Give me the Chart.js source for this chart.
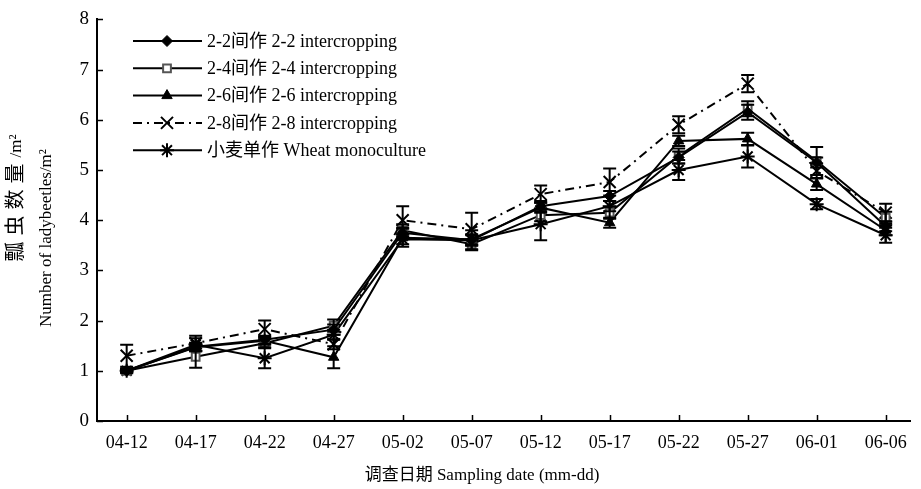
<!DOCTYPE html>
<html>
<head>
<meta charset="utf-8">
<script src="https://cdn.jsdelivr.net/npm/chart.js@4"></script>
<style>
  html, body { margin: 0; padding: 0; background: #fff; }
</style>
</head>
<body>
<canvas id="lineChart" width="921" height="489"></canvas>
<script>
  const dates = ['04-12', '04-17', '04-22', '04-27', '05-02', '05-07',
                 '05-12', '05-17', '05-22', '05-27', '06-01', '06-06'];
  const yTicks = [0, 1, 2, 3, 4, 5, 6, 7, 8];

  const seriesNames = [
    '2-2间作 2-2 intercropping',
    '2-4间作 2-4 intercropping',
    '2-6间作 2-6 intercropping',
    '2-8间作 2-8 intercropping',
    '小麦单作 Wheat monoculture'
  ];

  const ic22 = [1.00, 1.48, 1.62, 1.82, 3.75, 3.60, 4.28, 4.48, 5.25, 6.15, 5.15, 3.88];
  const ic24 = [1.00, 1.28, 1.55, 1.90, 3.80, 3.52, 4.10, 4.15, 5.28, 6.22, 5.18, 4.05];
  const ic26 = [1.00, 1.47, 1.60, 1.27, 3.65, 3.62, 4.25, 3.95, 5.58, 5.62, 4.72, 3.80];
  const ic28 = [1.30, 1.55, 1.83, 1.53, 4.00, 3.82, 4.52, 4.76, 5.90, 6.72, 4.98, 4.15];
  const wheat = [1.00, 1.52, 1.25, 1.72, 3.62, 3.60, 3.92, 4.28, 5.00, 5.27, 4.32, 3.70];

  // standard errors
  const ic22Err = [0.03, 0.08, 0.08, 0.10, 0.10, 0.10, 0.10, 0.10, 0.12, 0.15, 0.10, 0.10];
  const ic24Err = [0.03, 0.22, 0.08, 0.12, 0.12, 0.10, 0.12, 0.12, 0.15, 0.15, 0.28, 0.12];
  const ic26Err = [0.03, 0.08, 0.08, 0.22, 0.18, 0.10, 0.10, 0.10, 0.10, 0.12, 0.12, 0.10];
  const ic28Err = [0.22, 0.15, 0.17, 0.10, 0.28, 0.33, 0.17, 0.27, 0.17, 0.17, 0.15, 0.18];
  const wheatErr = [0.05, 0.13, 0.20, 0.10, 0.10, 0.20, 0.32, 0.10, 0.20, 0.22, 0.10, 0.15];

  const serif = '"Liberation Serif", "Noto Sans CJK SC", serif';

  const toPoints = (vals) => vals.map((v, i) => ({ x: i, y: v }));

  const base = {
    borderColor: '#000',
    borderWidth: 2,
    pointBorderColor: '#000',
    pointBackgroundColor: '#000',
    pointBorderWidth: 2,
    tension: 0,
    clip: false
  };

  const data = {
    datasets: [
      Object.assign({}, base, {
        label: seriesNames[0], data: toPoints(ic22), errors: ic22Err,
        pointStyle: 'rectRot', pointRadius: 5.5, pointBorderWidth: 1
      }),
      Object.assign({}, base, {
        label: seriesNames[1], data: toPoints(ic24), errors: ic24Err,
        pointStyle: 'rect', pointRadius: 5.5, pointBackgroundColor: '#fff',
        pointBorderColor: '#555'
      }),
      Object.assign({}, base, {
        label: seriesNames[2], data: toPoints(ic26), errors: ic26Err,
        pointStyle: 'triangle', pointRadius: 6, pointBorderWidth: 1
      }),
      Object.assign({}, base, {
        label: seriesNames[3], data: toPoints(ic28), errors: ic28Err,
        pointStyle: 'crossRot', pointRadius: 8.5, borderDash: [9, 5, 2, 5]
      }),
      Object.assign({}, base, {
        label: seriesNames[4], data: toPoints(wheat), errors: wheatErr,
        pointStyle: 'star', pointRadius: 7
      })
    ]
  };

  // error bars, drawn through the chart scales
  const errorBars = {
    id: 'errorBars',
    afterDatasetsDraw(chart) {
      const ctx = chart.ctx;
      const ys = chart.scales.y;
      ctx.save();
      ctx.strokeStyle = '#000';
      ctx.lineWidth = 2;
      ctx.setLineDash([]);
      chart.data.datasets.forEach((ds, di) => {
        const meta = chart.getDatasetMeta(di);
        meta.data.forEach((pt, i) => {
          const v = ds.data[i].y, e = ds.errors[i];
          const top = ys.getPixelForValue(v + e);
          const bot = ys.getPixelForValue(v - e);
          ctx.beginPath();
          ctx.moveTo(pt.x, top); ctx.lineTo(pt.x, bot);
          ctx.moveTo(pt.x - 6.5, top); ctx.lineTo(pt.x + 6.5, top);
          ctx.moveTo(pt.x - 6.5, bot); ctx.lineTo(pt.x + 6.5, bot);
          ctx.stroke();
        });
      });
      ctx.restore();
    }
  };

  // inward tick marks, legend inside plot, axis titles
  const decorations = {
    id: 'decorations',
    afterDraw(chart) {
      const ctx = chart.ctx;
      const { x, y } = chart.scales;
      const area = chart.chartArea;
      ctx.save();
      ctx.strokeStyle = '#000';
      ctx.lineWidth = 1.5;
      ctx.beginPath();
      y.ticks.forEach(t => {
        const py = Math.round(y.getPixelForValue(t.value)) + 0.5;
        ctx.moveTo(area.left, py); ctx.lineTo(area.left + 6, py);
      });
      x.ticks.forEach(t => {
        const px = Math.round(x.getPixelForValue(t.value)) + 0.5;
        ctx.moveTo(px, area.bottom); ctx.lineTo(px, area.bottom - 6);
      });
      ctx.stroke();

      // legend
      ctx.font = '18px ' + serif;
      ctx.textBaseline = 'middle';
      ctx.textAlign = 'left';
      chart.data.datasets.forEach((ds, i) => {
        const ry = 41 + i * 27.3;
        ctx.strokeStyle = '#000';
        ctx.lineWidth = 2;
        ctx.setLineDash(ds.borderDash || []);
        ctx.beginPath();
        ctx.moveTo(133, ry); ctx.lineTo(202, ry);
        ctx.stroke();
        ctx.setLineDash([]);
        ctx.fillStyle = ds.pointBackgroundColor;
        ctx.strokeStyle = ds.pointBorderColor;
        ctx.lineWidth = ds.pointBorderWidth;
        Chart.helpers.drawPoint(ctx, {
          pointStyle: ds.pointStyle, radius: ds.pointRadius,
          rotation: 0, borderWidth: ds.pointBorderWidth
        }, 167, ry);
        ctx.fillStyle = '#000';
        ctx.fillText(ds.label, 207, ry + 1);
      });

      // x title
      ctx.font = '17px ' + serif;
      ctx.textAlign = 'center';
      ctx.fillText('调查日期 Sampling date (mm-dd)', 482, 476);

      // y titles (rotated)
      ctx.save();
      ctx.translate(17, 198);
      ctx.rotate(-Math.PI / 2);
      ctx.textAlign = 'left';
      ctx.font = '20px ' + serif;
      ctx.letterSpacing = '6px';
      const w1 = ctx.measureText('瓢虫数量').width;
      ctx.letterSpacing = '0px';
      ctx.font = '17px ' + serif;
      const w2 = ctx.measureText('/m²').width;
      const start = -(w1 + w2) / 2;
      ctx.font = '20px ' + serif;
      ctx.letterSpacing = '6px';
      ctx.fillText('瓢虫数量', start, 0);
      ctx.letterSpacing = '0px';
      ctx.font = '17px ' + serif;
      ctx.fillText('/m²', start + w1, 0);
      ctx.restore();

      ctx.save();
      ctx.translate(47, 238);
      ctx.rotate(-Math.PI / 2);
      ctx.textAlign = 'center';
      ctx.font = '17px ' + serif;
      ctx.fillText('Number of ladybeetles/m²', 0, 0);
      ctx.restore();

      ctx.restore();
    }
  };

  const config = {
    type: 'line',
    data: data,
    options: {
      responsive: false,
      animation: false,
      devicePixelRatio: 1,
      layout: { padding: { top: 14, right: 2, left: 0, bottom: 0 } },
      plugins: {
        legend: { display: false },
        tooltip: { enabled: false }
      },
      scales: {
        x: {
          type: 'linear',
          min: -0.43,
          max: 11.36,
          afterBuildTicks: (scale) => {
            scale.ticks = dates.map((d, i) => ({ value: i }));
          },
          afterFit: (scale) => { scale.height = 68; },
          grid: { display: false, drawTicks: false },
          border: { display: true, color: '#000', width: 2 },
          ticks: {
            color: '#000',
            padding: 11,
            maxRotation: 0,
            autoSkip: false,
            font: { family: serif, size: 18 },
            callback: (v) => dates[v]
          }
        },
        y: {
          min: 0,
          max: 8,
          afterBuildTicks: (scale) => {
            scale.ticks = yTicks.map(v => ({ value: v }));
          },
          afterFit: (scale) => { scale.width = 97; },
          grid: { display: false, drawTicks: false },
          border: { display: true, color: '#000', width: 2 },
          ticks: {
            color: '#000',
            padding: 8,
            font: { family: serif, size: 19 },
            callback: (v) => String(v)
          }
        }
      }
    },
    plugins: [errorBars, decorations]
  };

  const myChart = new Chart(document.getElementById('lineChart'), config);
</script>
</body>
</html>
